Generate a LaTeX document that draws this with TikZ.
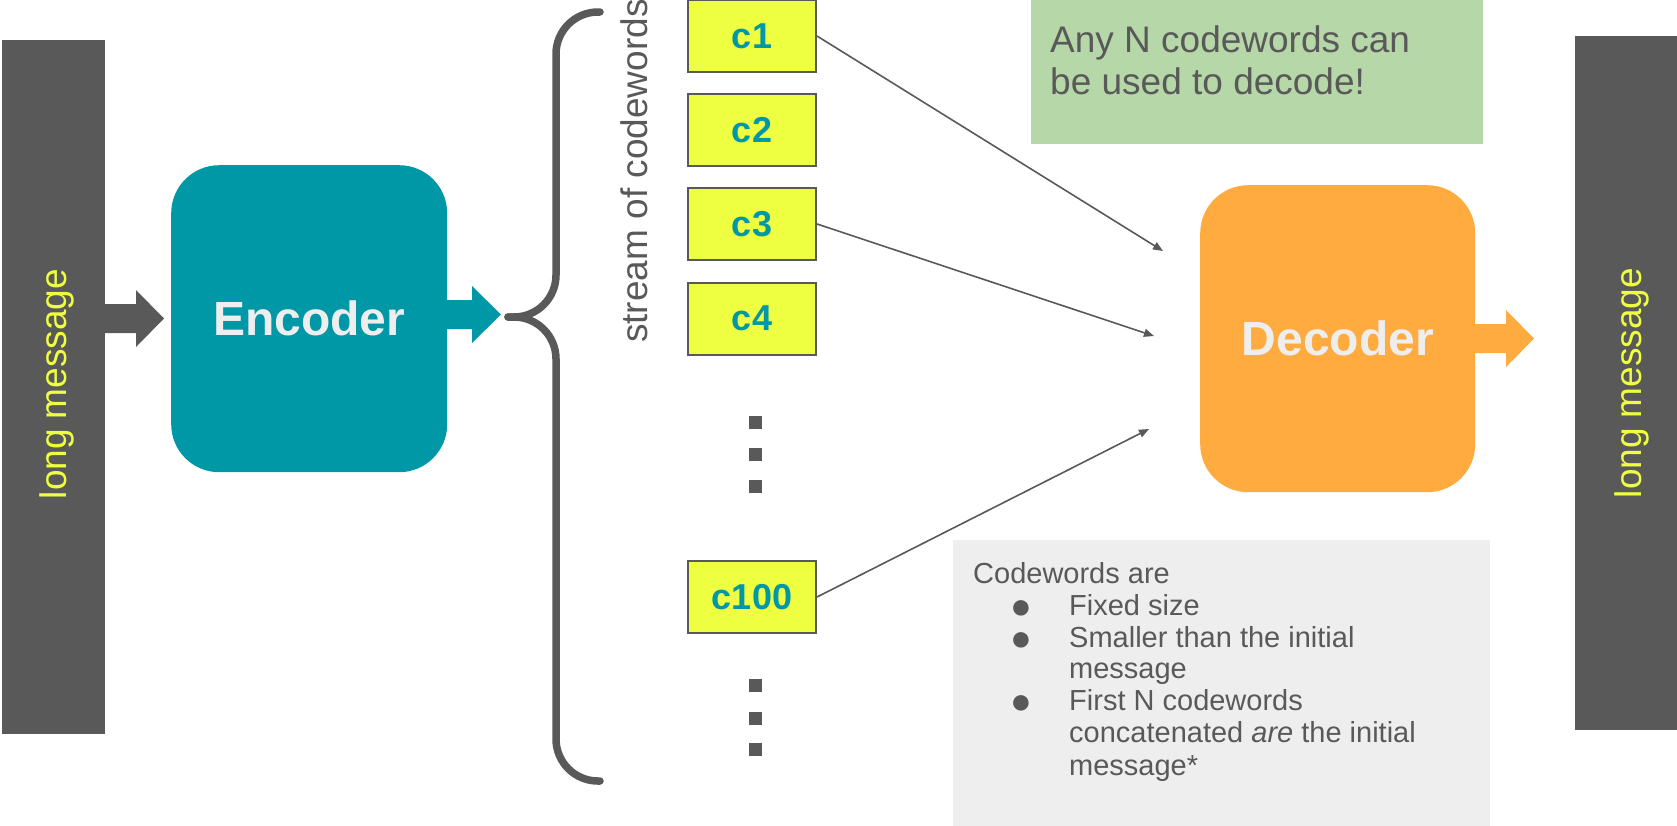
\documentclass[tikz,border=0pt]{standalone}
\usepackage{fontspec}
\setmainfont{Liberation Sans}
\usetikzlibrary{arrows.meta}
\definecolor{dg}{HTML}{595959}
\definecolor{tealc}{HTML}{0097A7}
\definecolor{yel}{HTML}{EEFF41}
\definecolor{orng}{HTML}{FFAB40}
\definecolor{grn}{HTML}{B6D7A8}
\definecolor{lg}{HTML}{EEEEEE}
\begin{document}
\begin{tikzpicture}[x=1pt,y=-1pt,
  bar/.style={fill=dg, draw=none, anchor=north west, inner sep=0pt},
  cw/.style={draw=dg, line width=2pt, fill=yel, minimum width=128pt, minimum height=72pt, inner sep=0pt, font=\fontsize{36}{40}\selectfont\bfseries, text=tealc},
  conn/.style={draw=dg, line width=1.6pt, -{Triangle[length=10pt,width=8pt]}},
  sqdot/.style={fill=dg, draw=none, minimum size=13pt, inner sep=0pt},
  bigbox/.style={rounded corners=48pt, minimum width=276pt, minimum height=307pt, anchor=north west, inner sep=0pt, text=lg, font=\fontsize{48}{52}\selectfont\bfseries},
  msg/.style={rotate=90, anchor=base, inner sep=0pt, text=yel, font=\fontsize{37}{42}\selectfont},
  gtxt/.style={anchor=base west, inner sep=0pt, text=dg, font=\fontsize{37}{42}\selectfont},
  ltxt/.style={anchor=base west, inner sep=0pt, text=dg, font=\fontsize{29}{32}\selectfont},
  bul/.style={anchor=base, inner sep=0pt, text=dg, font=\fontsize{36}{38}\selectfont},
  brace/.style={draw=dg, line width=7.5pt, line cap=round, line join=round}
]
\useasboundingbox (0,0) rectangle (1677,825);

% side bars
\node[bar, minimum width=103pt, minimum height=694pt] (lbar) at (2,40) {};
\node[bar, minimum width=102pt, minimum height=694pt] (rbar) at (1575,36) {};
\node[msg] (lmsg) at (66,384) {long message};
\node[msg] (rmsg) at (1641,383) {long message};

% encoder / decoder
\node[bigbox, fill=tealc] (enc) at (171,165) {Encoder};
\node[bigbox, fill=orng, minimum width=275pt] (dec) at (1200,185) {Decoder};

% block arrows
\fill[dg] (105,304) -- (136,304) -- (136,290) -- (164,318.5) -- (136,347) -- (136,333) -- (105,333) -- cycle;
\fill[tealc] (447,300) -- (472,300) -- (472,286) -- (501,314.5) -- (472,343) -- (472,329) -- (447,329) -- cycle;
\fill[orng] (1475,324) -- (1506,324) -- (1506,310) -- (1534,338.5) -- (1506,367) -- (1506,353) -- (1475,353) -- cycle;

% brace
\draw[brace, rounded corners=42pt] (600,12) -- (556,12) -- (556,317) -- (508,317);
\draw[brace, rounded corners=42pt] (508,317) -- (556,317) -- (556,781) -- (600,781);
\node[rotate=90, anchor=base west, inner sep=0pt, text=dg, font=\fontsize{37}{42}\selectfont] (stream) at (647,343) {stream of codewords};

% codewords
\node[cw] (c1) at (752,36) {c1};
\node[cw] (c2) at (752,130) {c2};
\node[cw] (c3) at (752,224) {c3};
\node[cw] (c4) at (752,318.5) {c4};
\node[cw] (c100) at (752,597) {c100};

% dots
\node[sqdot] (d1) at (755.5,422.5) {};
\node[sqdot] (d2) at (755.5,454.5) {};
\node[sqdot] (d3) at (755.5,486.5) {};
\node[sqdot] (d4) at (755.5,685.5) {};
\node[sqdot] (d5) at (755.5,718.5) {};
\node[sqdot] (d6) at (755.5,749.5) {};

% connectors
\coordinate (t1) at (1163,251);
\coordinate (t3) at (1154,336);
\coordinate (t100) at (1149,429);
\draw[conn] (c1.east) -- (t1);
\draw[conn] (c3.east) -- (t3);
\draw[conn] (c100.east) -- (t100);

% green note
\node[fill=grn, anchor=north west, minimum width=452pt, minimum height=144pt, inner sep=0pt] (green) at (1031,0) {};
\node[gtxt] (g1) at (1050,52) {Any N codewords can};
\node[gtxt] (g2) at (1050,94) {be used to decode!};

% gray note
\node[fill=lg, anchor=north west, minimum width=537pt, minimum height=290pt, inner sep=0pt] (gbox) at (953,540) {};
\node[ltxt] (l0) at (973,583) {Codewords are};
\node[bul] (b1) at (1021,618) {●};
\node[ltxt] (l1) at (1069,615) {Fixed size};
\node[bul] (b2) at (1021,650) {●};
\node[ltxt] (l2) at (1069,647) {Smaller than the initial};
\node[ltxt] (l3) at (1069,678) {message};
\node[bul] (b3) at (1021,713) {●};
\node[ltxt] (l4) at (1069,710) {First N codewords};
\node[ltxt] (l5) at (1069,742) {concatenated \textit{are} the initial};
\node[ltxt] (l6) at (1069,775) {message*};
\end{tikzpicture}
\end{document}
